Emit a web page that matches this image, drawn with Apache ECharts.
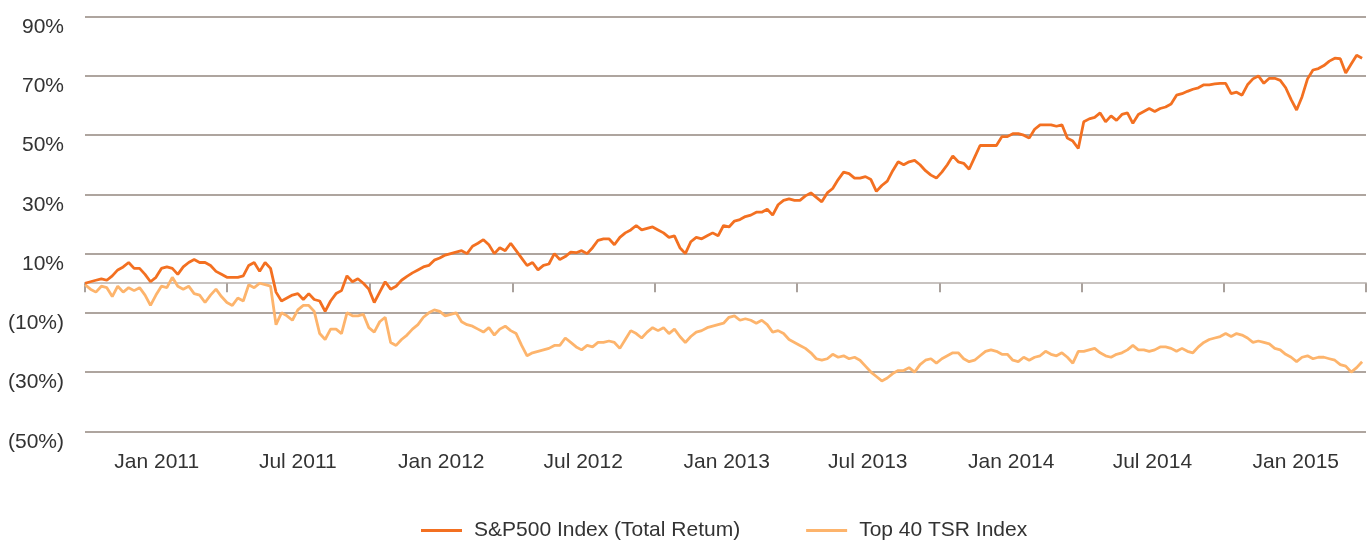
<!DOCTYPE html>
<html>
<head>
<meta charset="utf-8">
<script src="https://cdn.jsdelivr.net/npm/echarts@6/dist/echarts.min.js"></script>
<style>
  html, body { margin: 0; padding: 0; background: #fff; }
  #chart { width: 1372px; height: 540px; }
</style>
</head>
<body>
<div id="chart"></div>
<script>
// Weekly cumulative returns (%), first week of Oct 2010 through end of Mar 2015
const seriesNames = ['S&P500 Index (Total Retum)', 'Top 40 TSR Index'];

const sp500 = [
  0, 0.5, 1, 1.5, 1, 2.5, 4.5, 5.5, 7, 5,
  5, 3, 0.5, 2, 5, 5.5, 5, 3, 5.5, 7,
  8, 7, 7, 6, 4, 3, 2, 2, 2, 2.5,
  6, 7, 4, 7, 5, -3, -6, -5, -4, -3.5,
  -5.5, -3.5, -5.5, -6, -9.5, -6, -3.5, -2.5, 2.5, 0.5,
  1.5, 0, -2, -6.5, -3, 0.5, -2, -1, 1, 2.3,
  3.5, 4.5, 5.5, 6, 7.8, 8.5, 9.5, 10, 10.5, 11,
  10, 12.5, 13.5, 14.7, 13, 10, 12, 11, 13.5, 11,
  8.5, 6, 7, 4.5, 6, 6.5, 10, 8, 9, 10.5,
  10.3, 11, 10, 12, 14.5, 15, 15, 13, 15.5, 17,
  18, 19.5, 18, 18.5, 19, 18, 17, 15.5, 16, 12,
  10, 14, 15.5, 15, 16, 17, 16, 19.5, 19, 21,
  21.5, 22.5, 23, 24, 24, 25, 23, 26.5, 28, 28.5,
  28, 28, 29.5, 30.5, 29, 27.5, 30.5, 32, 35, 37.5,
  37, 35.5, 35.5, 36, 35, 31, 33, 34.5, 38, 41,
  40, 41, 41.5, 40, 38, 36.5, 35.5, 37.5, 40, 43,
  41, 40.5, 38.5, 42.5, 46.5, 46.5, 46.5, 46.5, 49.5, 49.5,
  50.5, 50.5, 50, 49, 52, 53.5, 53.5, 53.5, 53, 53.5,
  49, 48, 45.5, 54.5, 55.5, 56, 57.5, 54.5, 56.5, 55,
  57, 57.5, 54, 57, 58, 59, 58, 59, 59.5, 60.5,
  63.5, 64, 64.8, 65.5, 66, 67, 67, 67.3, 67.5, 67.5,
  64, 64.5, 63.5, 67, 69, 70, 67.5, 69.2, 69.2, 68.5,
  66, 62, 58.5, 63, 69, 72, 72.5, 73.5, 75, 76,
  75.8, 71, 74, 77, 76
];

const top40 = [
  -0.5, -2, -3, -1, -1.5, -4.5, -1, -3, -1.5, -2.5,
  -1.5, -4, -7.5, -4, -1, -1.5, 2, -1, -2, -1,
  -3.5, -4, -6.5, -4, -2, -4.5, -6.5, -7.5, -5, -6,
  -0.5, -1.5, 0, -0.5, -1, -14, -10, -11, -12.5, -9,
  -7.5, -7.5, -9.5, -17, -19, -15.5, -15.5, -17, -10, -11,
  -11, -10.5, -15, -16.5, -13, -11.5, -20, -21, -19, -17.5,
  -15.5, -14, -11.5, -10, -9, -9.5, -11, -10.5, -10, -13,
  -14, -14.5, -15.5, -16.5, -15, -17.5, -15.5, -14.5, -16, -17,
  -21, -24.5, -23.5, -23, -22.5, -22, -21, -21, -18.5, -20,
  -21.5, -22.5, -21, -21.5, -20, -20, -19.5, -20, -22, -19,
  -16, -17, -18.5, -16.5, -15, -16, -15, -17, -15.5, -18,
  -20, -18, -16.5, -16, -15, -14.5, -14, -13.5, -11.5, -11,
  -12.5, -12, -12.5, -13.5, -12.5, -14, -16.5, -16, -17, -19,
  -20, -21, -22, -23.5, -25.5, -26, -25.5, -24, -25, -24.5,
  -25.5, -25, -26, -28, -30, -31.5, -33, -32, -30.5, -29.5,
  -29.5, -28.5, -30, -27.5, -26, -25.5, -27, -25.5, -24.5, -23.5,
  -23.5, -25.5, -26.5, -26, -24.5, -23, -22.5, -23, -24, -24,
  -26, -26.5, -25, -26, -25, -24.5, -23, -24, -24.5, -23.5,
  -25, -27, -23, -23, -22.5, -22, -23.5, -24.5, -25, -24,
  -23.5, -22.5, -21, -22.5, -22.5, -23, -22.5, -21.5, -21.5, -22,
  -23, -22, -23, -23.5, -21.5, -20, -19, -18.5, -18, -17,
  -18, -17, -17.5, -18.5, -20, -19.5, -20, -20.5, -22, -22.5,
  -24, -25, -26.5, -25, -24.5, -25.5, -25, -25, -25.5, -26,
  -27.5, -28, -30, -28.5, -26.5
];

// Axis range and the half-year marks
const rangeStart = '2010-10-01';
const rangeEnd = '2015-04-01';
const labelDates = ['2011-01-01', '2011-07-01', '2012-01-01', '2012-07-01', '2013-01-01',
                    '2013-07-01', '2014-01-01', '2014-07-01', '2015-01-01'];
const labelTexts = ['Jan 2011', 'Jul 2011', 'Jan 2012', 'Jul 2012', 'Jan 2013',
                    'Jul 2013', 'Jan 2014', 'Jul 2014', 'Jan 2015'];
const tickDates = ['2010-10-01', '2011-04-01', '2011-10-01', '2012-04-01', '2012-10-01',
                   '2013-04-01', '2013-10-01', '2014-04-01', '2014-10-01', '2015-04-01'];
const yTicks = { min: -50, max: 90, step: 20 };

const DAY = 86400000;
const t = (s) => Date.parse(s + 'T00:00:00Z');
const t0 = t(rangeStart);
const weekTimes = sp500.map((_, i) => t0 + i * 7 * DAY);
const labelTimes = labelDates.map(t);
const tickTimes = tickDates.map(t);

const FONT = '"Liberation Sans", Arial, Helvetica, sans-serif';
const TEXT = '#333333';

const chart = echarts.init(document.getElementById('chart'), null, { renderer: 'canvas' });
chart.setOption({
  animation: false,
  color: ['#f37021', '#fdb46c'],
  grid: { left: 85, right: 6, top: 16.7, bottom: 108.7, containLabel: false },
  legend: {
    left: 416, bottom: -6,
    itemWidth: 41, itemHeight: 14, itemGap: 66,
    icon: 'path://M0,6 L41,6 L41,9 L0,9 Z',
    textStyle: { fontFamily: FONT, fontSize: 21, color: TEXT, padding: [0, 0, 0, 7] },
    data: seriesNames
  },
  xAxis: [
    {
      type: 'value', min: t0, max: t(rangeEnd),
      axisLine: { show: false, onZero: false },
      axisTick: { show: false },
      splitLine: { show: false },
      axisLabel: {
        customValues: labelTimes,
        margin: 20,
        fontFamily: FONT, fontSize: 21, color: TEXT,
        formatter: (v) => { const k = labelTimes.indexOf(v); return k >= 0 ? labelTexts[k] : ''; }
      }
    },
    {
      // zero baseline with the quarter-offset ticks
      type: 'value', position: 'top', min: t0, max: t(rangeEnd),
      axisLine: { show: true, onZero: true, lineStyle: { color: '#c8c3c0', width: 2 } },
      axisTick: { show: true, inside: true, length: 9, customValues: tickTimes,
                  lineStyle: { color: '#a9a19c', width: 2 } },
      axisLabel: { show: false },
      splitLine: { show: false }
    }
  ],
  yAxis: {
    type: 'value', min: yTicks.min, max: yTicks.max, interval: yTicks.step,
    axisLine: { show: false }, axisTick: { show: false },
    splitLine: { show: true, lineStyle: { color: '#aea59f', width: 2 } },
    axisLabel: {
      margin: 21, align: 'right', verticalAlign: 'top', lineHeight: 21,
      fontFamily: FONT, fontSize: 21, color: TEXT,
      formatter: (v) => v < 0 ? '(' + Math.abs(v) + '%)' : v + '%'
    }
  },
  series: [
    {
      name: seriesNames[0], type: 'line', symbol: 'none', z: 3,
      lineStyle: { width: 2.8 },
      data: sp500.map((v, i) => [weekTimes[i], v])
    },
    {
      name: seriesNames[1], type: 'line', symbol: 'none', z: 2,
      lineStyle: { width: 2.8 },
      data: top40.map((v, i) => [weekTimes[i], v])
    }
  ]
});
</script>
</body>
</html>
